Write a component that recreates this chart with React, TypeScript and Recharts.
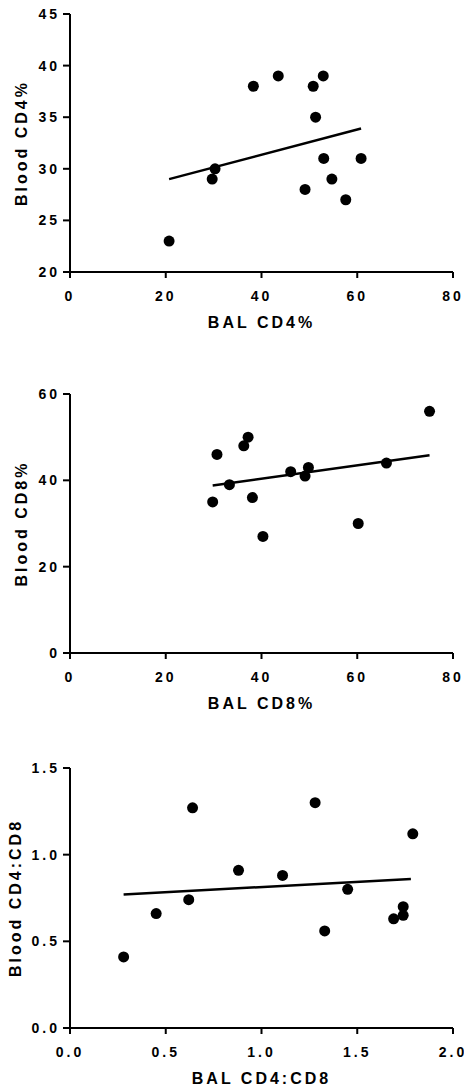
import {
  ScatterChart,
  Scatter,
  XAxis,
  YAxis,
  ReferenceLine,
} from 'recharts';

// BAL vs blood CD4%
const cd4Bal = [20.7, 29.7, 30.3, 38.3, 43.5, 50.8, 52.9, 51.3, 49.1, 53.0, 54.7, 57.6, 60.8];
const cd4Blood = [23, 29, 30, 38, 39, 38, 39, 35, 28, 31, 29, 27, 31];
const cd4FitX = [20.7, 60.8];
const cd4FitY = [29.0, 33.9];
const cd4XTicks = [0, 20, 40, 60, 80];
const cd4YTicks = [20, 25, 30, 35, 40, 45];

// BAL vs blood CD8%
const cd8Bal = [29.8, 30.7, 33.3, 36.3, 37.2, 38.1, 40.3, 46.1, 49.1, 49.8, 60.2, 66.1, 75.1];
const cd8Blood = [35, 46, 39, 48, 50, 36, 27, 42, 41, 43, 30, 44, 56];
const cd8FitX = [29.8, 75.1];
const cd8FitY = [38.8, 45.8];
const cd8XTicks = [0, 20, 40, 60, 80];
const cd8YTicks = [0, 20, 40, 60];

// BAL vs blood CD4:CD8 ratio
const ratioBal = [0.28, 0.45, 0.62, 0.64, 0.88, 1.11, 1.28, 1.33, 1.45, 1.69, 1.74, 1.74, 1.79];
const ratioBlood = [0.41, 0.66, 0.74, 1.27, 0.91, 0.88, 1.3, 0.56, 0.8, 0.63, 0.65, 0.7, 1.12];
const ratioFitX = [0.28, 1.78];
const ratioFitY = [0.77, 0.86];
const ratioXTicks = [0, 0.5, 1, 1.5, 2];
const ratioYTicks = [0, 0.5, 1, 1.5];

const tickStyle = { fill: '#000', fontSize: 14, fontWeight: 700, letterSpacing: 3 };
const labelStyle = { fill: '#000', fontSize: 16, fontWeight: 700, letterSpacing: 3 };

const Dot = (props: any) => (
  <circle cx={props.cx} cy={props.cy} r={5.5} fill="#000" />
);

interface PanelProps {
  top: number;
  height: number;
  xs: number[];
  ys: number[];
  fitX: number[];
  fitY: number[];
  xTicks: number[];
  yTicks: number[];
  xLabel: string;
  yLabel: string;
  yLabelOffset: number;
  decimals: number;
}

function Panel({
  top,
  height,
  xs,
  ys,
  fitX,
  fitY,
  xTicks,
  yTicks,
  xLabel,
  yLabel,
  yLabelOffset,
  decimals,
}: PanelProps) {
  const points = xs.map((x, i) => ({ x, y: ys[i] }));
  const fmt = (v: number) => v.toFixed(decimals);

  return (
    <div style={{ position: 'absolute', left: 0, top }}>
      <ScatterChart
        width={464}
        height={height}
        margin={{ top: 14, right: 11, left: 0, bottom: 0 }}
      >
        <XAxis
          type="number"
          dataKey="x"
          domain={[xTicks[0], xTicks[xTicks.length - 1]]}
          ticks={xTicks}
          interval={0}
          tickFormatter={fmt}
          height={60}
          tickSize={6}
          tickMargin={13}
          axisLine={{ stroke: '#000', strokeWidth: 2 }}
          tickLine={{ stroke: '#000', strokeWidth: 2 }}
          tick={tickStyle}
          label={{
            value: xLabel,
            position: 'insideBottom',
            offset: 4,
            style: labelStyle,
          }}
        />
        <YAxis
          type="number"
          dataKey="y"
          domain={[yTicks[0], yTicks[yTicks.length - 1]]}
          ticks={yTicks}
          interval={0}
          tickFormatter={fmt}
          width={70}
          tickSize={7}
          tickMargin={3}
          axisLine={{ stroke: '#000', strokeWidth: 2 }}
          tickLine={{ stroke: '#000', strokeWidth: 2 }}
          tick={tickStyle}
          label={{
            value: yLabel,
            angle: -90,
            position: 'insideLeft',
            offset: yLabelOffset,
            style: { ...labelStyle, textAnchor: 'middle' },
          }}
        />
        {/* linear regression fit */}
        <ReferenceLine
          segment={[
            { x: fitX[0], y: fitY[0] },
            { x: fitX[1], y: fitY[1] },
          ]}
          stroke="#000"
          strokeWidth={2.5}
          ifOverflow="visible"
        />
        <Scatter data={points} shape={Dot} isAnimationActive={false} />
      </ScatterChart>
    </div>
  );
}

export default function App() {
  return (
    <div
      style={{
        position: 'absolute',
        left: 0,
        top: 0,
        width: 464,
        height: 1088,
        background: '#fff',
        fontFamily: '"Liberation Sans", Arial, sans-serif',
      }}
    >
      <Panel
        top={0}
        height={332}
        xs={cd4Bal}
        ys={cd4Blood}
        fitX={cd4FitX}
        fitY={cd4FitY}
        xTicks={cd4XTicks}
        yTicks={cd4YTicks}
        xLabel="BAL CD4%"
        yLabel="Blood CD4%"
        yLabelOffset={21.5}
        decimals={0}
      />
      <Panel
        top={380}
        height={333}
        xs={cd8Bal}
        ys={cd8Blood}
        fitX={cd8FitX}
        fitY={cd8FitY}
        xTicks={cd8XTicks}
        yTicks={cd8YTicks}
        xLabel="BAL CD8%"
        yLabel="Blood CD8%"
        yLabelOffset={21.5}
        decimals={0}
      />
      <Panel
        top={754}
        height={334}
        xs={ratioBal}
        ys={ratioBlood}
        fitX={ratioFitX}
        fitY={ratioFitY}
        xTicks={ratioXTicks}
        yTicks={ratioYTicks}
        xLabel="BAL CD4:CD8"
        yLabel="Blood CD4:CD8"
        yLabelOffset={15}
        decimals={1}
      />
    </div>
  );
}
